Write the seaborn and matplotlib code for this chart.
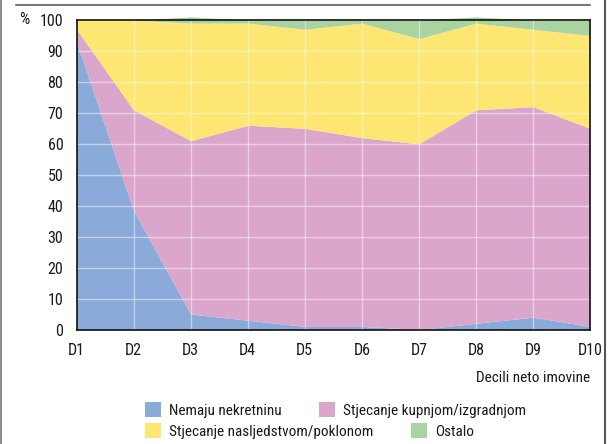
import matplotlib
matplotlib.use("Agg")
import matplotlib.pyplot as plt
from matplotlib.patches import Patch
from matplotlib.lines import Line2D
import seaborn as sns
import pandas as pd

deciles = ["D1", "D2", "D3", "D4", "D5", "D6", "D7", "D8", "D9", "D10"]
nemaju = [93, 38.5, 5, 3, 1, 1, 0, 2, 4, 1]
kupnjom = [4, 32.5, 56, 63, 64, 61, 60, 69, 68, 64]
nasljedstvom = [3, 29, 38, 33, 32, 37, 34, 28, 25, 30]
ostalo = [0, 0, 2, 1, 3, 1, 6, 2, 3, 5]
series_names = ["Nemaju nekretninu", "Stjecanje kupnjom/izgradnjom",
                "Stjecanje nasljedstvom/poklonom", "Ostalo"]
y_ticks = [0, 10, 20, 30, 40, 50, 60, 70, 80, 90, 100]

sns.set_style("white")
plt.rcParams["font.family"] = ["Roboto Condensed", "DejaVu Sans"]
colors = sns.color_palette(["#8aabd9", "#dba6cb", "#fde672", "#a9d3a0"])
txt = "#1a1a1a"
FS_TICK = 11.5
FS_TXT = 11

df = pd.DataFrame({"decil": deciles, series_names[0]: nemaju, series_names[1]: kupnjom,
                   series_names[2]: nasljedstvom, series_names[3]: ostalo})
x = list(range(len(deciles)))

W, H = 611, 444
fig = plt.figure(figsize=(W / 100, H / 100), dpi=100)
ax = fig.add_axes([76.5 / W, 1 - 329.5 / H, (590 - 76.5) / W, (329.5 - 20) / H])

polys = ax.stackplot(x, [df[n] for n in series_names], colors=colors, linewidth=0)
for p in polys:
    p.set_clip_on(False)

ax.set_xlim(0, len(deciles) - 1)
ax.set_ylim(0, 100)
ax.set_xticks(x)
ax.set_xticklabels(deciles)
ax.set_yticks(y_ticks)
for xv in x[1:-1]:
    ax.axvline(xv, color="white", alpha=0.45, lw=1, zorder=3)
for yv in y_ticks[1:-1]:
    ax.axhline(yv, color="white", alpha=0.45, lw=1, zorder=3)

ax.tick_params(axis="both", length=0, labelsize=FS_TICK, labelcolor=txt)
ax.tick_params(axis="y", pad=9.5)
ax.tick_params(axis="x", pad=9.5)
for s in ax.spines.values():
    s.set_visible(True)
    s.set_color("#111111")
    s.set_linewidth(1.2)
    s.set_zorder(5)

fig.text(24 / W, 1 - 20 / H, "%", ha="center", va="center", fontsize=FS_TICK, color=txt)
fig.text(590 / W, 1 - 378 / H, "Decili neto imovine", ha="right", va="center",
         fontsize=FS_TXT, color=txt)

# figure frame lines
fig.add_artist(Line2D([1 / W, 1 / W], [0, 1], transform=fig.transFigure, color="#777777", lw=1.2))
fig.add_artist(Line2D([605 / W, 605 / W], [0, 1], transform=fig.transFigure, color="#555555", lw=1.5))
fig.add_artist(Line2D([16 / W, 590 / W], [1 - 5 / H, 1 - 5 / H], transform=fig.transFigure,
                      color="#777777", lw=1.5))

# legend items placed as in the reference's flowing layout
handles = [Patch(facecolor=c, edgecolor="none") for c in colors]
item_pos = [(145, 410), (319, 410), (145, 431), (411, 431)]
kw = dict(frameon=False, fontsize=FS_TXT, handlelength=1.05, handleheight=1.05,
          handletextpad=0.5, borderpad=0, borderaxespad=0, loc="center left",
          labelcolor=txt)
for h, name, (px, py) in zip(handles, series_names, item_pos):
    fig.legend([h], [name], bbox_to_anchor=(px / W, 1 - py / H), **kw)

fig.savefig("out.png", dpi=100)
